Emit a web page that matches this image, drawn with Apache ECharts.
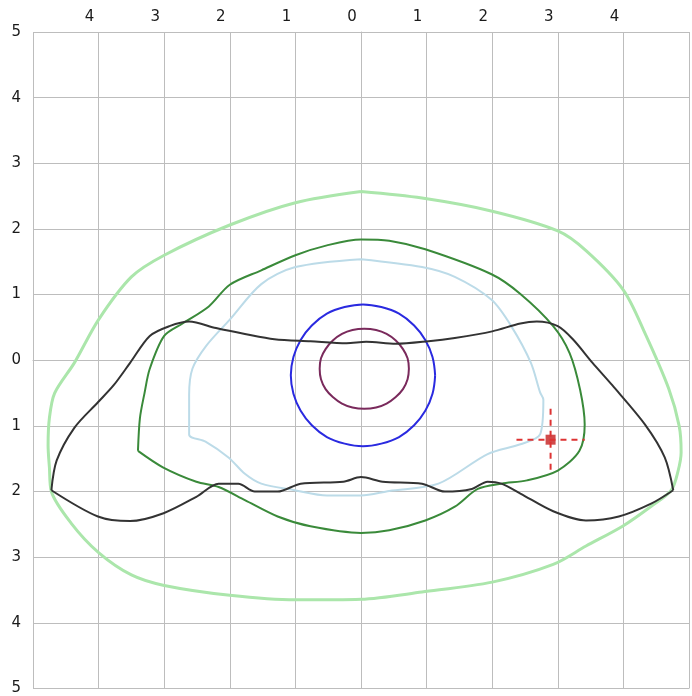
<!DOCTYPE html>
<html>
<head>
<meta charset="utf-8">
<script src="https://cdn.jsdelivr.net/npm/echarts@6/dist/echarts.min.js"></script>
<style>
html,body{margin:0;padding:0;background:#fff;}
#chart{width:692px;height:696px;}
</style>
</head>
<body>
<div id="chart"></div>
<script>
// Tick values (labels shown as absolute values)
var xTicks = [-5,-4,-3,-2,-1,0,1,2,3,4,5];
var yTicks = [-5,-4,-3,-2,-1,0,1,2,3,4,5];

// Contours, [x, y]
var outerGreen = [[0,2.57],[-1,2.4],[-2,2.06],[-3,1.6],[-3.5,1.27],[-4,0.62],[-4.37,-0.04],[-4.67,-0.5],[-4.75,-0.88],[-4.77,-1.3],[-4.75,-1.63],[-4.72,-2.0],[-4.42,-2.48],[-4.0,-2.93],[-3.5,-3.27],[-3.0,-3.43],[-2.0,-3.58],[-1.0,-3.65],[0,-3.64],[0.93,-3.53],[2,-3.38],[2.93,-3.11],[3.43,-2.83],[4,-2.52],[4.43,-2.22],[4.73,-1.98],[4.83,-1.7],[4.88,-1.4],[4.85,-1.0],[4.69,-0.43],[4.33,0.41],[4,1.07],[3.43,1.67],[3,1.97],[2,2.27],[0.93,2.47],[0,2.57]];

// dark green: from the lower-left corner, round over the top, to the corner again
var darkGreen = [[-3.4,-1.38],[-3.37,-0.88],[-3.3,-0.5],[-3.22,-0.13],[-3,0.37],[-2.72,0.56],[-2.32,0.82],[-2,1.15],[-1.52,1.37],[-1,1.6],[-0.52,1.75],[0,1.84],[0.43,1.82],[0.98,1.69],[1.99,1.31],[2.43,1.01],[2.93,0.52],[3.18,0.11],[3.34,-0.45],[3.41,-0.98],[3.33,-1.38],[3,-1.68],[2.53,-1.83],[2.14,-1.88],[1.78,-1.96],[1.43,-2.23],[0.98,-2.44],[0.43,-2.59],[0,-2.63],[-0.77,-2.53],[-1.27,-2.38],[-1.77,-2.13],[-2.17,-1.93],[-2.51,-1.85],[-3.02,-1.63],[-3.4,-1.38]];

var lightBlue = [[0,1.54],[-1,1.42],[-1.52,1.16],[-2,0.62],[-2.36,0.22],[-2.57,-0.13],[-2.62,-0.53],[-2.62,-1.13],[-2.37,-1.24],[-2.02,-1.48],[-1.77,-1.73],[-1.52,-1.88],[-1.01,-1.98],[-0.52,-2.06],[0,-2.06],[0.43,-1.99],[1.18,-1.88],[1.93,-1.43],[2.43,-1.28],[2.73,-1.13],[2.78,-0.6],[2.73,-0.49],[2.59,-0.04],[2.29,0.52],[1.99,0.92],[1.43,1.27],[0.93,1.42],[0,1.54]];

var blueCircle = [[1.13,-0.23],[1.09,0.05],[0.98,0.31],[0.81,0.53],[0.58,0.71],[0.31,0.81],[0.03,0.85],[-0.25,0.81],[-0.52,0.71],[-0.75,0.53],[-0.92,0.31],[-1.03,0.05],[-1.07,-0.23],[-1.03,-0.51],[-0.92,-0.77],[-0.75,-0.99],[-0.52,-1.17],[-0.25,-1.27],[0.03,-1.31],[0.31,-1.27],[0.58,-1.17],[0.81,-0.99],[0.98,-0.77],[1.09,-0.51],[1.13,-0.23]];

var purpleCircle = [[0.73,-0.13],[0.71,0.03],[0.64,0.17],[0.53,0.3],[0.39,0.4],[0.23,0.46],[0.05,0.48],[-0.13,0.46],[-0.29,0.4],[-0.43,0.3],[-0.54,0.17],[-0.61,0.03],[-0.63,-0.13],[-0.61,-0.29],[-0.54,-0.44],[-0.43,-0.56],[-0.29,-0.66],[-0.13,-0.72],[0.05,-0.74],[0.23,-0.72],[0.39,-0.66],[0.53,-0.56],[0.64,-0.44],[0.71,-0.29],[0.73,-0.13]];

// black contour: upper edge (left tip -> right tip) and lower edge (right tip -> left tip)
var blackTop = [[-4.72,-1.98],[-4.64,-1.53],[-4.37,-1.03],[-4.01,-0.64],[-3.77,-0.38],[-3.52,-0.04],[-3.22,0.37],[-2.92,0.52],[-2.62,0.59],[-2.21,0.49],[-1.77,0.4],[-1.32,0.32],[-0.77,0.29],[-0.22,0.26],[0.08,0.28],[0.53,0.25],[1.03,0.29],[1.43,0.34],[2,0.44],[2.43,0.56],[2.68,0.59],[3,0.52],[3.23,0.32],[3.53,-0.04],[3.83,-0.38],[4.33,-0.98],[4.63,-1.48],[4.76,-1.98]];
var blackBottom = [[4.76,-1.98],[4.43,-2.18],[3.93,-2.38],[3.43,-2.44],[2.93,-2.3],[2.43,-2.03],[2.14,-1.88],[1.93,-1.85],[1.69,-1.96],[1.28,-2.0],[0.93,-1.88],[0.33,-1.85],[0,-1.78],[-0.27,-1.85],[-0.92,-1.88],[-1.27,-2.0],[-1.62,-2.0],[-1.87,-1.88],[-2.17,-1.88],[-2.51,-2.08],[-3.01,-2.33],[-3.52,-2.45],[-4.01,-2.38],[-4.72,-1.98]];

var markerPoint = [2.89, -1.21];
var crossArm = [0.52, 0.47];

var crossH = [[markerPoint[0]-crossArm[0], markerPoint[1]], [markerPoint[0]+crossArm[0], markerPoint[1]]];
var crossV = [[markerPoint[0], markerPoint[1]+crossArm[1]], [markerPoint[0], markerPoint[1]-crossArm[1]]];

function lineSeries(data, color, width, extra) {
  var s = {
    type: 'line', data: data, symbol: 'none', smooth: 0.3,
    lineStyle: {color: color, width: width},
    silent: true, animation: false
  };
  if (extra) for (var k in extra) s[k] = extra[k];
  return s;
}

var chart = echarts.init(document.getElementById('chart'), null, {renderer: 'canvas'});
var gridColor = '#bdbdbd';
var labelFont = {color: '#1a1a1a', fontSize: 15, fontFamily: 'DejaVu Sans'};
chart.setOption({
  backgroundColor: '#fff',
  animation: false,
  grid: {left: 33, top: 32, width: 665, height: 665},
  xAxis: {
    type: 'value', position: 'top', min: xTicks[0], max: xTicks[xTicks.length-1], interval: 1,
    axisLine: {show: true, lineStyle: {color: gridColor, width: 1}},
    axisTick: {show: false},
    splitLine: {show: true, lineStyle: {color: gridColor, width: 1}},
    axisLabel: Object.assign({}, labelFont, {
      margin: 7, padding: [0, 18, 0, 0],
      formatter: function (v) { return Math.abs(v) === 5 ? '' : String(Math.abs(v)); }
    })
  },
  yAxis: {
    type: 'value', min: yTicks[0], max: yTicks[yTicks.length-1], interval: 1,
    axisLine: {show: true, lineStyle: {color: gridColor, width: 1}},
    axisTick: {show: false},
    splitLine: {show: true, lineStyle: {color: gridColor, width: 1}},
    axisLabel: Object.assign({}, labelFont, {
      margin: 12, padding: [0, 0, 3, 0],
      formatter: function (v) { return String(Math.abs(v)); }
    })
  },
  series: [
    lineSeries(outerGreen, '#abe6ab', 3),
    lineSeries(lightBlue, '#bcdbe8', 2),
    lineSeries(darkGreen, '#3a8a3a', 2),
    lineSeries(blueCircle, '#2a2ae0', 2, {smooth: 0.4}),
    lineSeries(purpleCircle, '#7a2a5c', 2, {smooth: 0.4}),
    lineSeries(blackTop, '#333333', 2),
    lineSeries(blackBottom, '#333333', 2),
    lineSeries(crossH, '#dd3333', 2, {smooth: false, lineStyle: {color: '#dd3333', width: 2, type: [6, 5]}}),
    lineSeries(crossV, '#dd3333', 2, {smooth: false, lineStyle: {color: '#dd3333', width: 2, type: [6, 5]}}),
    {type: 'scatter', data: [markerPoint], symbol: 'rect', symbolSize: 10,
     itemStyle: {color: '#c41e1e'}, silent: true, animation: false}
  ]
});
</script>
</body>
</html>
